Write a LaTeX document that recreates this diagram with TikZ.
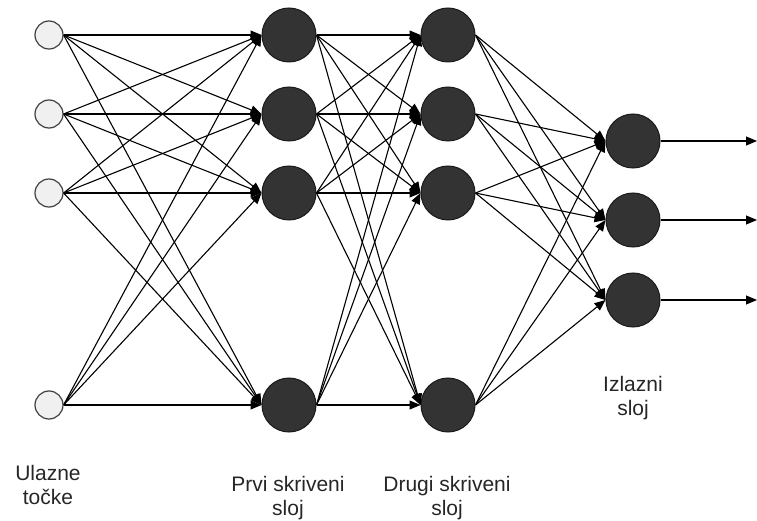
\documentclass[tikz,border=0pt]{standalone}
\usepackage{fontspec}
\setmainfont{Liberation Sans}
\usetikzlibrary{arrows.meta}
\begin{document}
\begin{tikzpicture}[x=1pt,y=-1pt,
  inp/.style={circle,draw=black!75,fill=black!6,line width=1.2pt,minimum size=28pt,inner sep=0pt},
  hid/.style={circle,draw=black!90,fill=black!80,line width=1pt,minimum size=54pt,inner sep=0pt},
  conn/.style={draw=black,line width=1.1pt,-{Triangle[length=11pt,width=9pt]}},
  lbl/.style={align=center,font=\fontsize{21}{24}\selectfont,text=black!85,inner sep=0pt}]
\useasboundingbox (0,0) rectangle (757,521);
% layers
\foreach \i/\y in {1/35,2/114,3/193,4/405} {
  \node[inp] (i\i) at (49,\y) {};
  \node[hid] (a\i) at (289,\y) {};
  \node[hid] (b\i) at (448,\y) {};
}
\foreach \i/\y in {1/141,2/220,3/300} {
  \node[hid] (o\i) at (633,\y) {};
  \coordinate (e\i) at (757,\y);
}
% fully connected links
\foreach \s in {1,...,4} {
  \foreach \t in {1,...,4} {
    \draw[conn] (i\s.east) -- (a\t.west);
    \draw[conn] (a\s.east) -- (b\t.west);
  }
  \foreach \t in {1,...,3} {
    \draw[conn] (b\s.east) -- (o\t.west);
  }
}
\foreach \i in {1,2,3} \draw[conn] (o\i.east) -- (e\i);
% layer captions
\node[lbl] (l1) at (48,485) {Ulazne\\točke};
\node[lbl] (l2) at (288,498) {Prvi skriveni\\sloj};
\node[lbl] (l3) at (447,498) {Drugi skriveni\\sloj};
\node[lbl] (l4) at (633,398) {Izlazni\\sloj};
\end{tikzpicture}
\end{document}
